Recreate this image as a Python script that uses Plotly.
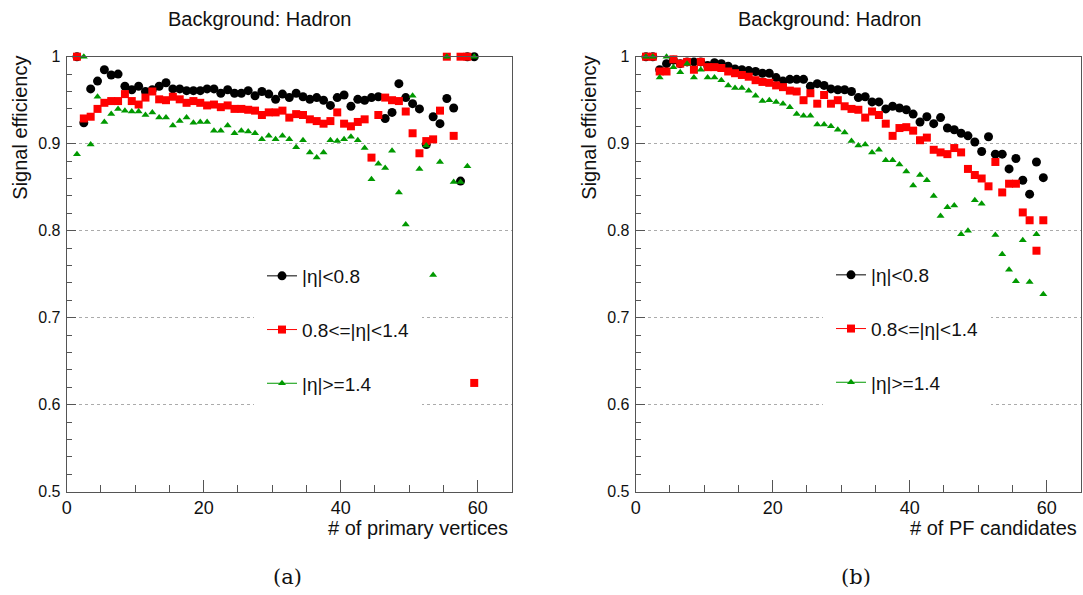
import plotly.graph_objects as go

# ---------------- data ----------------
bin_centers = [1.5, 2.5, 3.5, 4.5, 5.5, 6.5, 7.5, 8.5, 9.5, 10.5,
               11.5, 12.5, 13.5, 14.5, 15.5, 16.5, 17.5, 18.5, 19.5, 20.5,
               21.5, 22.5, 23.5, 24.5, 25.5, 26.5, 27.5, 28.5, 29.5, 30.5,
               31.5, 32.5, 33.5, 34.5, 35.5, 36.5, 37.5, 38.5, 39.5, 40.5,
               41.5, 42.5, 43.5, 44.5, 45.5, 46.5, 47.5, 48.5, 49.5, 50.5,
               51.5, 52.5, 53.5, 54.5, 55.5, 56.5, 57.5, 58.5, 59.5]

# (a) vs number of primary vertices
pv_eta_lt08 = [1.000, 0.924, 0.963, 0.972, 0.985, 0.979, 0.980, 0.966, 0.962, 0.966,
               0.960, 0.962, 0.966, 0.970, 0.963, 0.963, 0.961, 0.961, 0.961, 0.963,
               0.963, 0.958, 0.962, 0.958, 0.958, 0.961, 0.955, 0.960, 0.957, 0.951,
               0.957, 0.953, 0.958, 0.954, 0.951, 0.953, 0.950, 0.944, 0.953, 0.956,
               0.943, 0.951, 0.950, 0.953, 0.954, 0.929, 0.936, 0.969, 0.953, 0.946,
               0.940, 0.899, 0.931, 0.923, 0.952, 0.941, 0.857, 1.000, 1.000]
pv_eta_08_14 = [1.000, 0.929, 0.931, 0.940, 0.947, 0.949, 0.949, 0.957, 0.949, 0.945,
                0.953, 0.960, 0.951, 0.950, 0.954, 0.951, 0.947, 0.949, 0.947, 0.944,
                0.945, 0.942, 0.944, 0.940, 0.940, 0.939, 0.938, 0.933, 0.936, 0.936,
                0.938, 0.930, 0.934, 0.933, 0.928, 0.926, 0.923, 0.926, 0.936, 0.923,
                0.920, 0.925, 0.928, 0.884, 0.933, 0.953, 0.950, 0.949, 0.937, 0.912,
                0.889, 0.903, 0.905, 0.938, 1.000, 0.909, 1.000, 1.000, 0.625]
pv_eta_ge14 = [0.888, 1.000, 0.899, 0.954, 0.925, 0.934, 0.940, 0.938, 0.937, 0.937,
               0.933, 0.936, 0.930, 0.930, 0.921, 0.926, 0.930, 0.924, 0.925, 0.925,
               0.915, 0.915, 0.921, 0.912, 0.915, 0.914, 0.912, 0.905, 0.909, 0.905,
               0.909, 0.905, 0.896, 0.904, 0.890, 0.884, 0.890, 0.904, 0.903, 0.905,
               0.908, 0.904, 0.895, 0.859, 0.877, 0.872, 0.892, 0.844, 0.807, 0.955,
               0.871, 0.898, 0.749, 0.879, 1.000, 0.856, 0.856, 0.874, 1.000]

# (b) vs number of PF candidates
pf_eta_lt08 = [1.000, 1.000, 0.985, 0.992, 0.996, 0.992, 0.994, 0.994, 0.994, 0.990,
               0.993, 0.992, 0.989, 0.986, 0.985, 0.984, 0.983, 0.981, 0.981, 0.976,
               0.972, 0.974, 0.974, 0.974, 0.966, 0.969, 0.967, 0.963, 0.962, 0.962,
               0.960, 0.953, 0.954, 0.948, 0.948, 0.940, 0.943, 0.941, 0.939, 0.934,
               0.925, 0.931, 0.923, 0.930, 0.918, 0.916, 0.912, 0.909, 0.902, 0.891,
               0.908, 0.888, 0.888, 0.871, 0.883, 0.858, 0.842, 0.879, 0.861]
pf_eta_08_14 = [1.000, 1.000, 0.983, 0.983, 0.997, 0.992, 0.994, 0.985, 0.994, 0.988,
                0.988, 0.987, 0.983, 0.981, 0.979, 0.977, 0.973, 0.971, 0.970, 0.967,
                0.965, 0.961, 0.960, 0.950, 0.958, 0.946, 0.956, 0.946, 0.950, 0.943,
                0.940, 0.939, 0.930, 0.937, 0.933, 0.923, 0.909, 0.918, 0.919, 0.915,
                0.904, 0.907, 0.893, 0.890, 0.888, 0.895, 0.890, 0.871, 0.864, 0.860,
                0.851, 0.879, 0.844, 0.854, 0.854, 0.821, 0.812, 0.777, 0.812]
pf_eta_ge14 = [1.000, 1.000, 0.976, 1.000, 0.988, 0.982, 0.992, 0.976, 0.985, 0.976,
               0.976, 0.973, 0.967, 0.964, 0.964, 0.961, 0.955, 0.949, 0.950, 0.948,
               0.946, 0.942, 0.934, 0.932, 0.932, 0.922, 0.922, 0.920, 0.916, 0.913,
               0.903, 0.898, 0.899, 0.890, 0.893, 0.881, 0.881, 0.876, 0.868, 0.852,
               0.864, 0.858, 0.840, 0.817, 0.827, 0.829, 0.796, 0.800, 0.835, 0.831,
               None, 0.795, 0.773, 0.755, 0.742, 0.789, 0.741, 0.796, 0.727]

series_names = ["|η|<0.8", "0.8<=|η|<1.4", "|η|>=1.4"]
series_colors = ["#000000", "#ff0000", "#009900"]
series_symbols = ["circle", "square", "triangle-up"]
series_sizes = [9, 8, 7]

panel_titles = ["Background: Hadron", "Background: Hadron"]
x_titles = ["# of primary vertices", "# of PF candidates"]
y_title = "Signal efficiency"
sub_labels = ["(a)", "(b)"]

# ---------------- figure ----------------
W, H = 1083, 595
FONT = "Liberation Sans, Arial, Helvetica, sans-serif"
AX = "#555555"


def fx(px):
    return px / W


def fy(py):
    return 1 - py / H


fig = go.Figure()

panels = [
    ("x", "y", [pv_eta_lt08, pv_eta_08_14, pv_eta_ge14], "legend"),
    ("x2", "y2", [pf_eta_lt08, pf_eta_08_14, pf_eta_ge14], "legend2"),
]

for xa, ya, ys, lg in panels:
    for i, yv in enumerate(ys):
        fig.add_trace(go.Scatter(
            x=bin_centers, y=yv, mode="markers", xaxis=xa, yaxis=ya,
            marker=dict(symbol=series_symbols[i], size=series_sizes[i],
                        color=series_colors[i], line=dict(width=0)),
            showlegend=False, cliponaxis=False))
    for i in range(3):
        fig.add_trace(go.Scatter(
            x=[None], y=[None], mode="lines+markers", xaxis=xa, yaxis=ya,
            name=series_names[i], legend=lg, legendgroup=f"{lg}{i}",
            line=dict(color=series_colors[i], width=1),
            marker=dict(symbol=series_symbols[i], size=series_sizes[i],
                        color=series_colors[i])))

x_domains = [[fx(66.7), fx(511.9)], [fx(635.7), fx(1081.0)]]
y_domain = [fy(491.7), fy(56.7)]

common_x = dict(range=[0, 65], showline=True, linecolor=AX, linewidth=1, mirror=True,
                ticks="inside", ticklen=12, tickcolor=AX, tickwidth=1,
                tick0=0, dtick=20, showgrid=False, zeroline=False, automargin=False,
                minor=dict(ticks="inside", ticklen=7, dtick=5, tickcolor=AX, tickwidth=1),
                tickfont=dict(family=FONT, size=18, color="#111"))
common_y = dict(range=[0.5, 1.0], showline=True, linecolor=AX, linewidth=1, mirror=True,
                ticks="inside", ticklen=9, tickcolor=AX, tickwidth=1,
                tick0=0.5, dtick=0.1, showgrid=True, gridcolor="#ababab",
                griddash="dot", gridwidth=1, zeroline=False, automargin=False,
                minor=dict(ticks="inside", ticklen=5, dtick=0.02, tickcolor=AX, tickwidth=1),
                tickfont=dict(family=FONT, size=16, color="#111"),
                ticklabelstandoff=2)

legend_common = dict(xanchor="left", yanchor="top",
                     bgcolor="white", bordercolor="white", borderwidth=8,
                     font=dict(family=FONT, size=19, color="#111"),
                     tracegroupgap=26, itemwidth=30)

fig.update_layout(
    width=W, height=H, margin=dict(l=0, r=0, t=0, b=0, autoexpand=False),
    paper_bgcolor="white", plot_bgcolor="white",
    font=dict(family=FONT, color="#111"),
    xaxis=dict(domain=x_domains[0], anchor="y", **common_x),
    yaxis=dict(domain=y_domain, anchor="x", **common_y),
    xaxis2=dict(domain=x_domains[1], anchor="y2", **common_x),
    yaxis2=dict(domain=y_domain, anchor="x2", **common_y),
    legend=dict(x=fx(254), y=fy(249), **legend_common),
    legend2=dict(x=fx(823), y=fy(248), **legend_common),
)

anns = []
for k, (xd, cx) in enumerate(zip(x_domains, [259, 829])):
    anns.append(dict(text=panel_titles[k], x=fx(cx), y=fy(19), xref="paper", yref="paper",
                     xanchor="center", yanchor="middle", showarrow=False,
                     font=dict(family=FONT, size=20, color="#111")))
    anns.append(dict(text=x_titles[k], x=xd[1] - fx(2), y=fy(528), xref="paper",
                     yref="paper", xanchor="right", yanchor="middle", showarrow=False,
                     font=dict(family=FONT, size=20, color="#111")))
    left_px = 66.7 if k == 0 else 635.7
    anns.append(dict(text=y_title, x=fx(left_px - 47), y=fy(54), xref="paper", yref="paper",
                     xanchor="center", yanchor="top", textangle=-90, showarrow=False,
                     font=dict(family=FONT, size=20, color="#111")))
    anns.append(dict(text=sub_labels[k], x=fx([287, 856][k]), y=fy(577), xref="paper",
                     yref="paper", xanchor="center", yanchor="middle", showarrow=False,
                     font=dict(family="DejaVu Serif, Liberation Serif, serif", size=21,
                               color="#111")))
fig.update_layout(annotations=anns)

fig.write_html("out.html", config={"displayModeBar": False},
               post_script="document.body.style.margin='0';document.body.style.padding='0';")
